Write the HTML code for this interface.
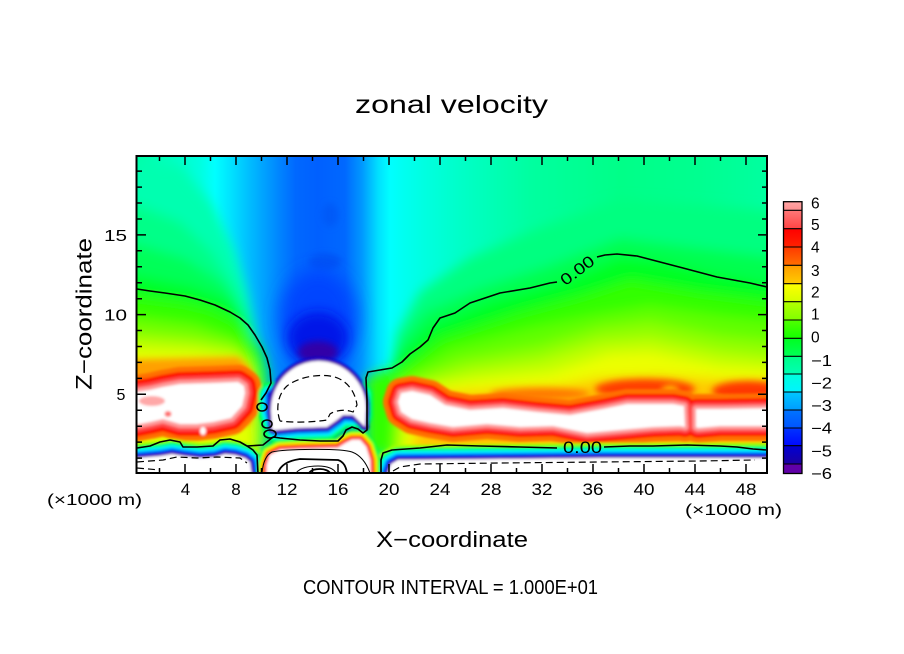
<!DOCTYPE html>
<html><head><meta charset="utf-8"><style>
html,body{margin:0;padding:0;background:#fff;}
svg{display:block;}
text{font-family:"Liberation Sans",sans-serif;fill:#000;}
</style></head><body>
<svg width="904" height="654" viewBox="0 0 904 654" xmlns="http://www.w3.org/2000/svg">
<defs>
<clipPath id="pc"><rect x="137" y="156" width="630" height="317"/></clipPath>
<filter id="f6" filterUnits="userSpaceOnUse" x="0" y="0" width="904" height="654"><feGaussianBlur stdDeviation="6"/></filter>
<filter id="f4" filterUnits="userSpaceOnUse" x="0" y="0" width="904" height="654"><feGaussianBlur stdDeviation="3.5"/></filter>
<filter id="f10" filterUnits="userSpaceOnUse" x="0" y="0" width="904" height="654"><feGaussianBlur stdDeviation="9"/></filter>
<filter id="f1" filterUnits="userSpaceOnUse" x="0" y="0" width="904" height="654"><feGaussianBlur stdDeviation="1.2"/></filter>
<linearGradient id="gTop" gradientUnits="userSpaceOnUse" x1="137" y1="0" x2="767" y2="0">
<stop offset="0" stop-color="#00ffa8"/><stop offset="0.052" stop-color="#00ffc0"/><stop offset="0.100" stop-color="#00ffe0"/>
<stop offset="0.124" stop-color="#00ffff"/><stop offset="0.151" stop-color="#00e0ff"/><stop offset="0.176" stop-color="#00c0ff"/>
<stop offset="0.203" stop-color="#00a0ff"/><stop offset="0.230" stop-color="#0080ff"/><stop offset="0.252" stop-color="#0068ff"/>
<stop offset="0.287" stop-color="#0060ff"/><stop offset="0.330" stop-color="#0068ff"/><stop offset="0.357" stop-color="#0098ff"/>
<stop offset="0.383" stop-color="#00e0ff"/><stop offset="0.402" stop-color="#00ffff"/><stop offset="0.425" stop-color="#00fff0"/>
<stop offset="0.457" stop-color="#00ffe0"/><stop offset="0.513" stop-color="#00ffc8"/><stop offset="0.624" stop-color="#00ffa0"/>
<stop offset="0.767" stop-color="#00ff88"/><stop offset="0.894" stop-color="#00ff90"/><stop offset="1" stop-color="#00ffa0"/>
</linearGradient>
<linearGradient id="c1" x1="0" y1="0" x2="0" y2="1"><stop offset="0" stop-color="#ffa4a4"/><stop offset="1" stop-color="#ff9090"/></linearGradient>
<linearGradient id="c2" x1="0" y1="0" x2="0" y2="1"><stop offset="0" stop-color="#ff7878"/><stop offset="1" stop-color="#ff4444"/></linearGradient>
<linearGradient id="c3" x1="0" y1="0" x2="0" y2="1"><stop offset="0" stop-color="#ff0000"/><stop offset="1" stop-color="#ff2200"/></linearGradient>
<linearGradient id="c4" x1="0" y1="0" x2="0" y2="1"><stop offset="0" stop-color="#ff3800"/><stop offset="1" stop-color="#ff7000"/></linearGradient>
<linearGradient id="c5" x1="0" y1="0" x2="0" y2="1"><stop offset="0" stop-color="#ff9c00"/><stop offset="1" stop-color="#ffcc00"/></linearGradient>
<linearGradient id="c6" x1="0" y1="0" x2="0" y2="1"><stop offset="0" stop-color="#ffff00"/><stop offset="1" stop-color="#d4ff00"/></linearGradient>
<linearGradient id="c7" x1="0" y1="0" x2="0" y2="1"><stop offset="0" stop-color="#b4ff00"/><stop offset="1" stop-color="#80ff00"/></linearGradient>
<linearGradient id="c8" x1="0" y1="0" x2="0" y2="1"><stop offset="0" stop-color="#50ff00"/><stop offset="1" stop-color="#14ff00"/></linearGradient>
<linearGradient id="c9" x1="0" y1="0" x2="0" y2="1"><stop offset="0" stop-color="#00ff20"/><stop offset="1" stop-color="#00ff58"/></linearGradient>
<linearGradient id="c10" x1="0" y1="0" x2="0" y2="1"><stop offset="0" stop-color="#00ff88"/><stop offset="1" stop-color="#00ffb4"/></linearGradient>
<linearGradient id="c11" x1="0" y1="0" x2="0" y2="1"><stop offset="0" stop-color="#00ffdc"/><stop offset="1" stop-color="#00f4ff"/></linearGradient>
<linearGradient id="c12" x1="0" y1="0" x2="0" y2="1"><stop offset="0" stop-color="#00c8ff"/><stop offset="1" stop-color="#009cff"/></linearGradient>
<linearGradient id="c13" x1="0" y1="0" x2="0" y2="1"><stop offset="0" stop-color="#0074ff"/><stop offset="1" stop-color="#0054ff"/></linearGradient>
<linearGradient id="c14" x1="0" y1="0" x2="0" y2="1"><stop offset="0" stop-color="#0034ff"/><stop offset="1" stop-color="#0008ff"/></linearGradient>
<linearGradient id="c15" x1="0" y1="0" x2="0" y2="1"><stop offset="0" stop-color="#0000d4"/><stop offset="1" stop-color="#1c00a0"/></linearGradient>

<path id="LB" d="M130,393 L150,390 L163,387 L180,384 L213,383 L238,382 L244,386 L245,393 L242,406 L231,418 L213,422 L197,424 L180,424 L163,419 L150,422 L130,426 Z"/>
<path id="RA" d="M398,402 L401,393 L412,391 L430,395 L445,405 L470,410 L503,408 L537,412 L570,415 L603,409 L627,404 L653,404 L673,404 L684,406 L685,427 L680,426 L653,427 L620,430 L587,433 L553,426 L520,427 L487,424 L453,427 L430,423 L412,419 L401,412 Z"/>
<path id="RB" d="M696,409 L720,409 L780,408 L780,426 L720,426 L698,428 L696,427 Z"/>
<path id="HU" d="M271,395 L360,395 L360,415 L355,416 L343,415 L337,420 L327,427 L297,428 L277,430 L271,412 Z"/>
<path id="BL" d="M100,458 L137,458 L160,456 L172,454 L184,456 L200,458 L215,457 L225,454 L235,455 L245,458 L250,462 L252,476 L252,500 L100,500 Z"/>
<path id="BR" d="M387,500 L388,472 L391,464 L398,460 L500,459 L600,458 L700,458 L780,458 L780,500 Z"/>
<path id="LC" d="M266,500 L267,465 L270,455 L280,450 L300,449 L338,448 L346,443 L352,440 L360,440 L366,447 L370,460 L371,500 Z"/>
<path id="BC" d="M272,430 L271,412 C270,385 290,362 318,361 C346,361 367,384 366,410 L365,427 L360,422 L353,415 L343,415 L337,420 L327,427 L297,428 L277,430 Z"/>
</defs>

<g clip-path="url(#pc)">
<rect x="130" y="150" width="650" height="330" fill="url(#gTop)"/>

<g filter="url(#f6)">
<polygon fill="#00ff38" points="240,318 255,336 263,352 268,372 270,448 240,448"/>
<polygon fill="#30ff00" points="366,378 380,372 392,369 402,362 402,455 366,455"/>
<polygon fill="#00ffb0" points="60,160 180,166 212,205 234,250 247,292 256,335 260,520 60,520"/>
<polygon fill="#00ff88" points="60,200 137,205 180,222 212,252 236,290 250,328 258,360 260,520 60,520"/>
<polygon fill="#00ff58" points="60,240 137,244 185,258 222,282 242,310 254,340 260,370 262,520 60,520"/>
<polygon fill="#00ff28" points="60,272 137,276 190,286 228,300 246,320 256,345 262,380 262,520 60,520"/>
<polygon fill="#30ff00" points="60,294 137,296 185,302 210,308 235,320 250,335 258,365 262,520 60,520"/>
<polygon fill="#70ff00" points="60,316 137,318 195,325 234,338 250,356 258,388 258,520 60,520"/>
<polygon fill="#b0ff00" points="60,333 137,335 195,340 236,348 252,364 256,395 256,520 60,520"/>
<polygon fill="#e4ff00" points="60,346 137,348 195,351 238,357 250,372 254,400 254,520 60,520"/>
<polygon fill="#00ff80" points="392,520 396,335 420,292 470,258 540,228 620,200 700,205 780,212 780,520"/>
<polygon fill="#00ff50" points="390,520 394,352 425,312 480,288 550,265 620,238 700,248 780,258 780,520"/>
<polygon fill="#00ff20" points="386,520 390,368 430,327 490,302 560,283 620,258 660,262 720,275 780,285 780,520"/>
<polygon fill="#30ff00" points="386,520 392,376 440,338 520,312 580,296 630,280 700,292 780,302 780,520"/>
<polygon fill="#60ff00" points="388,520 396,380 450,348 530,328 600,314 650,306 720,316 780,322 780,520"/>
<polygon fill="#90ff00" points="390,520 398,384 460,360 540,346 600,328 650,322 720,336 780,342 780,520"/>
<polygon fill="#c0ff00" points="394,520 402,388 470,370 540,360 600,342 650,338 720,352 780,358 780,520"/>
<polygon fill="#ecff00" points="398,520 408,390 480,380 550,373 610,354 650,352 720,366 780,370 780,520"/>
<polygon fill="#ffc800" points="404,520 420,394 490,390 560,386 600,378 660,376 720,380 780,380 780,520"/>
</g>

<g filter="url(#f4)">
<polygon fill="#ffa000" points="100,360 195,358 238,357 250,368 254,392 250,425 100,425"/>
<ellipse cx="645" cy="389" rx="50" ry="10" fill="#ff3c00"/>
<ellipse cx="748" cy="391" rx="36" ry="10" fill="#ff3800"/>
<ellipse cx="540" cy="394" rx="50" ry="6" fill="#ff7800"/>
<ellipse cx="670" cy="391" rx="7" ry="3" fill="#ffe800"/>
<ellipse cx="325" cy="262" rx="16" ry="8" fill="#0052f4"/>
<ellipse cx="330" cy="215" rx="8" ry="12" fill="#005af8"/>
</g>

<g filter="url(#f10)">
<ellipse cx="318" cy="318" rx="38" ry="48" fill="#0044ff"/>
</g>
<g filter="url(#f6)">
<ellipse cx="318" cy="338" rx="30" ry="26" fill="#0012e8"/>
</g>
<g filter="url(#f4)">
<ellipse cx="318" cy="352" rx="20" ry="11" fill="#3000a8"/>
</g>

<g filter="url(#f1)" stroke-linejoin="round">
<use href="#LB" fill="#ff7000" stroke="#ff7000" stroke-width="34"/>
<use href="#LB" fill="#ff1400" stroke="#ff1400" stroke-width="24"/>
<use href="#LB" fill="#ff4848" stroke="#ff4848" stroke-width="15"/>
<use href="#LB" fill="#ff9a9a" stroke="#ff9a9a" stroke-width="8"/>
<use href="#LB" fill="#ffffff"/>
<ellipse cx="152" cy="401" rx="13" ry="5" fill="#ffa8a8"/>
<ellipse cx="168" cy="414" rx="3.5" ry="3" fill="#ff7070"/>
<ellipse cx="203" cy="431" rx="3" ry="4" fill="#ffffff"/>

<use href="#RA" fill="#ff7000" stroke="#ff7000" stroke-width="30"/>
<use href="#RB" fill="#ff7000" stroke="#ff7000" stroke-width="30"/>
<use href="#RA" fill="#ff1000" stroke="#ff1000" stroke-width="20"/>
<use href="#RB" fill="#ff1000" stroke="#ff1000" stroke-width="20"/>
<use href="#RA" fill="#ff4848" stroke="#ff4848" stroke-width="13"/>
<use href="#RB" fill="#ff4848" stroke="#ff4848" stroke-width="13"/>
<use href="#RA" fill="#ff9a9a" stroke="#ff9a9a" stroke-width="7"/>
<use href="#RB" fill="#ff9a9a" stroke="#ff9a9a" stroke-width="7"/>
<use href="#RA" fill="#ffffff"/>
<use href="#RB" fill="#ffffff"/>

<use href="#HU" fill="#00ff40" stroke="#00ff40" stroke-width="26"/>
<use href="#HU" fill="#00ffa8" stroke="#00ffa8" stroke-width="21"/>
<use href="#HU" fill="#00f0ff" stroke="#00f0ff" stroke-width="17"/>
<use href="#HU" fill="#00a8ff" stroke="#00a8ff" stroke-width="13"/>
<use href="#HU" fill="#0050ff" stroke="#0050ff" stroke-width="9"/>
<use href="#HU" fill="#0010d0" stroke="#0010d0" stroke-width="6"/>
<use href="#HU" fill="#5000a0" stroke="#5000a0" stroke-width="3"/>

<use href="#BL" fill="#a0ff00" stroke="#a0ff00" stroke-width="30"/>
<use href="#BR" fill="#a0ff00" stroke="#a0ff00" stroke-width="30"/>
<use href="#BL" fill="#00ff30" stroke="#00ff30" stroke-width="25"/>
<use href="#BR" fill="#00ff30" stroke="#00ff30" stroke-width="25"/>
<use href="#BL" fill="#00ffa8" stroke="#00ffa8" stroke-width="21"/>
<use href="#BR" fill="#00ffa8" stroke="#00ffa8" stroke-width="21"/>
<use href="#BL" fill="#00f0ff" stroke="#00f0ff" stroke-width="17"/>
<use href="#BR" fill="#00f0ff" stroke="#00f0ff" stroke-width="17"/>
<use href="#BL" fill="#00a8ff" stroke="#00a8ff" stroke-width="13"/>
<use href="#BR" fill="#00a8ff" stroke="#00a8ff" stroke-width="13"/>
<use href="#BL" fill="#0048ff" stroke="#0048ff" stroke-width="10"/>
<use href="#BR" fill="#0048ff" stroke="#0048ff" stroke-width="10"/>
<use href="#BL" fill="#0010c8" stroke="#0010c8" stroke-width="6.4"/>
<use href="#BR" fill="#0010c8" stroke="#0010c8" stroke-width="6.4"/>
<use href="#BL" fill="#5800a8" stroke="#5800a8" stroke-width="3.2"/>
<use href="#BR" fill="#5800a8" stroke="#5800a8" stroke-width="3.2"/>
<use href="#BL" fill="#ffffff"/>
<use href="#BR" fill="#ffffff"/>

<use href="#LC" fill="#00ff40" stroke="#00ff40" stroke-width="20"/>
<use href="#LC" fill="#a0ff00" stroke="#a0ff00" stroke-width="16"/>
<use href="#LC" fill="#ffee00" stroke="#ffee00" stroke-width="13"/>
<use href="#LC" fill="#ff9000" stroke="#ff9000" stroke-width="10"/>
<use href="#LC" fill="#ff1000" stroke="#ff1000" stroke-width="7"/>
<use href="#LC" fill="#ff5050" stroke="#ff5050" stroke-width="4"/>
<use href="#LC" fill="#ff9a9a" stroke="#ff9a9a" stroke-width="2"/>
<use href="#LC" fill="#ffffff"/>

<use href="#BC" fill="#0010c8" stroke="#0010c8" stroke-width="8"/>
<use href="#BC" fill="#5800a8" stroke="#5800a8" stroke-width="4"/>
<use href="#BC" fill="#ffffff"/>
</g>

<g fill="none" stroke="#000" stroke-width="1.6" stroke-linejoin="round">
<polyline points="137,289 150,291 165,293 185,296 200,300 215,305 230,312 240,318 248,325 255,335 262,347 267,358 270,370 271,383 266,393 261,400"/>
<ellipse cx="262" cy="407" rx="5" ry="4"/>
<ellipse cx="267" cy="424" rx="5" ry="4"/>
<ellipse cx="270" cy="434" rx="6" ry="4"/>
<polyline points="273,437 280,438 300,440 320,441 338,441 343,436 346,430 352,427 358,429 363,433 367,430 367,400 366,378 368,372 380,370 392,368 402,362 410,354 420,347 428,340 433,328 440,318 455,313 470,303 500,293 530,288 550,283 557,282"/>
<polyline points="597,257 605,255 617,254 637,256 660,262 683,268 717,277 750,283 767,287"/>
<polyline points="137,448 150,446 160,442 170,440 180,442 183,447 197,447 213,446 220,440 230,439 240,442 247,446 253,450 257,455 258,474"/>
<polyline points="247,446 263,445 273,437"/>
<polyline points="381,474 381,460 383,453 392,450 420,448 447,445 480,446 520,447 557,448"/>
<polyline points="604,447 630,446 653,446 687,445 720,446 737,447 753,449 767,450"/>
</g>
<g fill="none" stroke="#000" stroke-width="1.2" stroke-dasharray="7 4">
<path d="M280,421 C276,410 277,395 287,386 C297,378 315,374 330,376 C345,378 355,390 357,405 L353,412 C345,409 336,410 330,414 L327,420 C315,422 295,423 280,421"/>
<polyline points="137,462 163,460 177,457 197,458 217,457 240,458 247,463"/>
<polyline points="137,468 160,470"/>
<polyline points="393,471 400,467 420,464 500,463 600,462 700,461 755,460"/>
</g>
<g fill="none" stroke="#000">
<path stroke-width="1" d="M262,473 C263,462 266,455 272,452 C285,449 340,448 352,452 C360,455 366,462 370,473"/>
<path stroke-width="1.8" d="M278,473 C280,466 286,461 300,459 L338,460 C344,462 346,467 347,473"/>
<path stroke-width="1" d="M296,473 C300,468 308,466 318,466 C328,466 334,469 336,473"/>
<path stroke-width="1.8" d="M309,473 C311,470 315,469 320,469 C325,469 329,471 330,473"/>
</g>
<text x="582.5" y="453" font-size="17" text-anchor="middle" textLength="39" lengthAdjust="spacingAndGlyphs">0.00</text>
<text transform="translate(577,270) rotate(-37)" y="6" font-size="16" text-anchor="middle" textLength="38" lengthAdjust="spacingAndGlyphs">0.00</text>
</g>

<rect x="136.5" y="156" width="630.5" height="317" fill="none" stroke="#000" stroke-width="2"/>
<path fill="none" stroke="#000" stroke-width="1.5" d="M159.5,473v-5M185,473v-9M210.5,473v-5M236,473v-9M261.5,473v-5M287,473v-9M312.5,473v-5M338,473v-9M363.5,473v-5M389,473v-9M414.5,473v-5M440,473v-9M465.5,473v-5M491,473v-9M516.5,473v-5M542,473v-9M567.5,473v-5M593,473v-9M618.5,473v-5M644,473v-9M669.5,473v-5M695,473v-9M720.5,473v-5M746,473v-9
M159.5,156v5M185,156v9M210.5,156v5M236,156v9M261.5,156v5M287,156v9M312.5,156v5M338,156v9M363.5,156v5M389,156v9M414.5,156v5M440,156v9M465.5,156v5M491,156v9M516.5,156v5M542,156v9M567.5,156v5M593,156v9M618.5,156v5M644,156v9M669.5,156v5M695,156v9M720.5,156v5M746,156v9
M137,458.1h5M137,442.1h5M137,426.2h5M137,410.2h5M137,394.3h9M137,378.4h5M137,362.4h5M137,346.5h5M137,330.5h5M137,314.6h9M137,298.7h5M137,282.7h5M137,266.8h5M137,250.8h5M137,234.9h9M137,219h5M137,203h5M137,187.1h5M137,171.1h5
M767,458.1h-5M767,442.1h-5M767,426.2h-5M767,410.2h-5M767,394.3h-9M767,378.4h-5M767,362.4h-5M767,346.5h-5M767,330.5h-5M767,314.6h-9M767,298.7h-5M767,282.7h-5M767,266.8h-5M767,250.8h-5M767,234.9h-9M767,219h-5M767,203h-5M767,187.1h-5M767,171.1h-5"/>

<text x="355" y="113" font-size="25" textLength="193" lengthAdjust="spacingAndGlyphs">zonal velocity</text>
<text x="376" y="547" font-size="22" textLength="152" lengthAdjust="spacingAndGlyphs">X−coordinate</text>
<text transform="translate(91.5,314) rotate(-90)" font-size="22" text-anchor="middle" textLength="152" lengthAdjust="spacingAndGlyphs">Z−coordinate</text>
<text x="303" y="594" font-size="20" textLength="295" lengthAdjust="spacingAndGlyphs">CONTOUR INTERVAL = 1.000E+01</text>
<text x="47" y="505" font-size="16" textLength="95" lengthAdjust="spacingAndGlyphs">(×1000 m)</text>
<text x="685" y="515" font-size="16" textLength="97" lengthAdjust="spacingAndGlyphs">(×1000 m)</text>

<g font-size="17" text-anchor="middle">
<text x="185.5" y="495">4</text>
<text x="236" y="495">8</text>
<text x="287" y="495" textLength="21" lengthAdjust="spacingAndGlyphs">12</text>
<text x="338" y="495" textLength="21" lengthAdjust="spacingAndGlyphs">16</text>
<text x="389" y="495" textLength="21" lengthAdjust="spacingAndGlyphs">20</text>
<text x="440" y="495" textLength="21" lengthAdjust="spacingAndGlyphs">24</text>
<text x="491" y="495" textLength="21" lengthAdjust="spacingAndGlyphs">28</text>
<text x="542" y="495" textLength="21" lengthAdjust="spacingAndGlyphs">32</text>
<text x="593" y="495" textLength="21" lengthAdjust="spacingAndGlyphs">36</text>
<text x="644" y="495" textLength="21" lengthAdjust="spacingAndGlyphs">40</text>
<text x="695" y="495" textLength="21" lengthAdjust="spacingAndGlyphs">44</text>
<text x="746" y="495" textLength="21" lengthAdjust="spacingAndGlyphs">48</text>
</g>
<g font-size="16">
<text x="104" y="241" textLength="23" lengthAdjust="spacingAndGlyphs">15</text>
<text x="104" y="320.5" textLength="23" lengthAdjust="spacingAndGlyphs">10</text>
<text x="116.5" y="400">5</text>
</g>

<g>
<rect x="783.5" y="201.7" width="18.5" height="8.6" fill="url(#c1)"/>
<rect x="783.5" y="210.3" width="18.5" height="18.4" fill="url(#c2)"/>
<rect x="783.5" y="228.7" width="18.5" height="18.3" fill="url(#c3)"/>
<rect x="783.5" y="247" width="18.5" height="18.3" fill="url(#c4)"/>
<rect x="783.5" y="265.3" width="18.5" height="18.4" fill="url(#c5)"/>
<rect x="783.5" y="283.7" width="18.5" height="18" fill="url(#c6)"/>
<rect x="783.5" y="301.7" width="18.5" height="18.3" fill="url(#c7)"/>
<rect x="783.5" y="320" width="18.5" height="18.3" fill="url(#c8)"/>
<rect x="783.5" y="338.3" width="18.5" height="18" fill="url(#c9)"/>
<rect x="783.5" y="356.3" width="18.5" height="17.7" fill="url(#c10)"/>
<rect x="783.5" y="374" width="18.5" height="18" fill="url(#c11)"/>
<rect x="783.5" y="392" width="18.5" height="18" fill="url(#c12)"/>
<rect x="783.5" y="410" width="18.5" height="18" fill="url(#c13)"/>
<rect x="783.5" y="428" width="18.5" height="17.7" fill="url(#c14)"/>
<rect x="783.5" y="445.7" width="18.5" height="18.3" fill="url(#c15)"/>
<rect x="783.5" y="464" width="18.5" height="9.5" fill="#6000a8"/>
<path stroke="#000" stroke-width="1.1" fill="none" d="M783.5,210.3h18.5M783.5,228.7h18.5M783.5,247h18.5M783.5,265.3h18.5M783.5,283.7h18.5M783.5,301.7h18.5M783.5,320h18.5M783.5,338.3h18.5M783.5,356.3h18.5M783.5,374h18.5M783.5,392h18.5M783.5,410h18.5M783.5,428h18.5M783.5,445.7h18.5M783.5,464h18.5"/>
<rect x="783.5" y="201.7" width="18.5" height="271.8" fill="none" stroke="#000" stroke-width="1.3"/>
</g>
<g font-size="15.5">
<text x="811" y="208.3">6</text>
<text x="811" y="230">5</text>
<text x="811" y="252.7">4</text>
<text x="811" y="276">3</text>
<text x="811" y="297.7">2</text>
<text x="811" y="319.3">1</text>
<text x="811" y="342.7">0</text>
<text x="811" y="366" textLength="21" lengthAdjust="spacingAndGlyphs">−1</text>
<text x="811" y="388.3" textLength="21" lengthAdjust="spacingAndGlyphs">−2</text>
<text x="811" y="411" textLength="21" lengthAdjust="spacingAndGlyphs">−3</text>
<text x="811" y="433.3" textLength="21" lengthAdjust="spacingAndGlyphs">−4</text>
<text x="811" y="456.7" textLength="21" lengthAdjust="spacingAndGlyphs">−5</text>
<text x="811" y="479" textLength="21" lengthAdjust="spacingAndGlyphs">−6</text>
</g>
</svg>
</body></html>
